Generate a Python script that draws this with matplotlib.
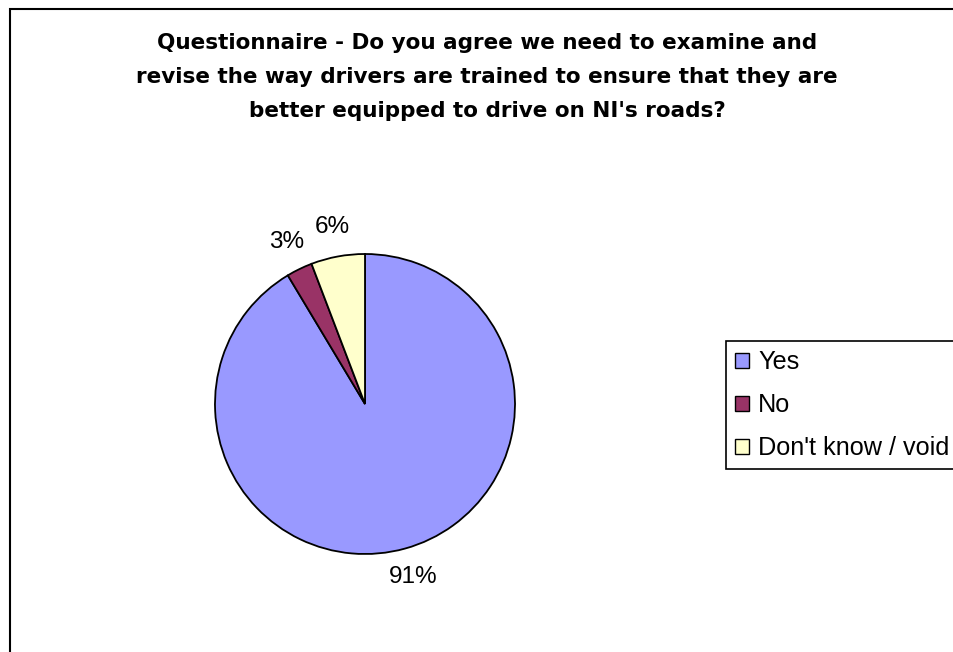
import matplotlib
matplotlib.use("Agg")
import matplotlib.pyplot as plt
from matplotlib.patches import Rectangle

plt.rcParams["font.family"] = ["Liberation Sans", "DejaVu Sans"]

# answers, share of responses (%)
labels = ["Yes", "No", "Don't know / void"]
shares = [91.4, 2.8, 5.8]
colors = ["#9999FF", "#993366", "#FFFFCC"]

title_lines = ["Questionnaire - Do you agree we need to examine and",
               "revise the way drivers are trained to ensure that they are",
               "better equipped to drive on NI's roads?"]

W, H = 954, 652
fig = plt.figure(figsize=(W / 100, H / 100), dpi=100)

# outer chart frame (right and bottom edges run off the picture)
fig.patches.append(Rectangle((10 / W, -0.1), 1.2, 1.1 - 9 / H,
                             transform=fig.transFigure, fill=False,
                             edgecolor="black", linewidth=1.5, clip_on=False))

# title, one line at a time so the baselines sit where they should
for i, line in enumerate(title_lines):
    fig.text(487 / W, 1 - (49 + 34 * i) / H, line, ha="center",
             va="baseline", fontsize=15.5, fontweight="bold",
             family="DejaVu Sans")

cx, cy, r = 365, 404, 150
ax = fig.add_axes([(cx - r) / W, (H - cy - r) / H, 2 * r / W, 2 * r / H])
wedges, texts, autotexts = ax.pie(
    shares, colors=colors, startangle=90, counterclock=False,
    autopct="%.0f%%", pctdistance=1.2,
    wedgeprops=dict(edgecolor="black", linewidth=1.3, clip_on=False),
    textprops=dict(fontsize=17.5, color="black"))
ax.set_xlim(-1, 1)
ax.set_ylim(-1, 1)
ax.axis("off")

leg = fig.legend(wedges, labels, loc="upper left",
                 bbox_to_anchor=(726 / W, 1 - 341 / H), borderaxespad=0,
                 fontsize=18.2, handlelength=0.55, handleheight=0.55,
                 handletextpad=0.36, labelspacing=0.755, borderpad=0.36,
                 fancybox=False, framealpha=1, edgecolor="black")
leg.get_frame().set_linewidth(1.2)
for h in leg.legend_handles:
    h.set_linewidth(1.0)

fig.savefig("out.png", dpi=100)
